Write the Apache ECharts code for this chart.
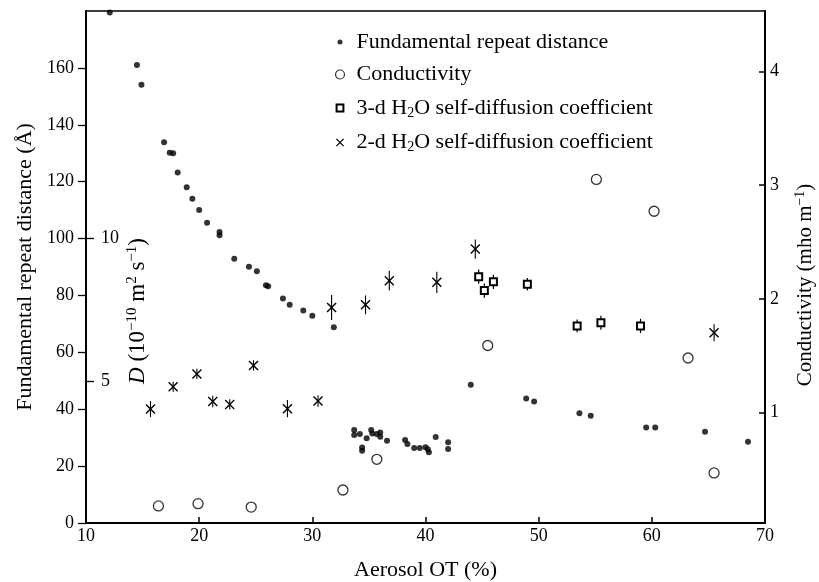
<!DOCTYPE html>
<html><head><meta charset="utf-8">
<script src="https://cdn.jsdelivr.net/npm/echarts@6/dist/echarts.min.js"></script>
<style>html,body{margin:0;padding:0;background:#fff}#c{width:819px;height:582px}</style>
</head><body><div id="c"></div>
<script>
// Fundamental repeat distance (Å) vs Aerosol OT (%)
const repeatX = [12.1, 14.5, 14.9, 16.9, 17.4, 17.7, 18.1, 18.9, 19.4, 20.0, 20.7, 21.8, 21.8, 23.1, 24.4, 25.1, 25.9, 26.1, 27.4, 28.0, 29.2, 30.0, 31.9, 33.7, 33.7, 34.2, 34.4, 34.4, 34.8, 35.2, 35.3, 35.7, 36.0, 36.0, 36.6, 38.2, 38.4, 39.0, 39.5, 40.0, 40.2, 40.3, 40.9, 42.0, 42.0, 44.0, 48.9, 49.6, 53.6, 54.6, 59.5, 60.3, 64.7, 68.5];
const repeatY = [179.5, 161.0, 154.1, 133.9, 130.2, 130.0, 123.2, 118.0, 114.0, 110.0, 105.6, 102.3, 101.2, 92.9, 90.1, 88.5, 83.6, 83.2, 78.9, 76.7, 74.7, 72.9, 68.8, 32.7, 30.9, 31.3, 26.5, 25.4, 29.8, 32.7, 31.5, 31.3, 31.8, 30.3, 28.9, 29.2, 27.8, 26.4, 26.4, 26.6, 25.9, 24.9, 30.2, 28.4, 26.0, 48.6, 43.8, 42.7, 38.6, 37.7, 33.6, 33.6, 32.1, 28.6];
// Conductivity (mho m^-1)
const condX = [16.4, 19.9, 24.6, 32.7, 35.7, 45.5, 55.1, 60.2, 63.2, 65.5];
const condY = [0.18, 0.20, 0.17, 0.32, 0.59, 1.59, 3.05, 2.77, 1.48, 0.47];
// 3-d H2O self-diffusion coefficient D (1e-10 m2 s-1)
const d3X = [44.7, 45.2, 46.0, 49.0, 53.4, 55.5, 59.0];
const d3Y = [8.66, 8.17, 8.48, 8.39, 6.93, 7.04, 6.93];
const d3Err = [0.25, 0.25, 0.25, 0.22, 0.22, 0.25, 0.25];
// 2-d H2O self-diffusion coefficient D
const d2X = [15.7, 17.7, 19.8, 21.2, 22.7, 24.8, 27.8, 30.5, 31.7, 34.7, 36.8, 41.0, 44.4, 65.5];
const d2Y = [4.01, 4.79, 5.24, 4.27, 4.17, 5.54, 4.02, 4.29, 7.58, 7.67, 8.52, 8.46, 9.63, 6.69];
const d2Err = [0.28, 0.18, 0.18, 0.2, 0.18, 0.18, 0.3, 0.2, 0.44, 0.33, 0.35, 0.37, 0.34, 0.3];
// tick labels
const xTicks = [10, 20, 30, 40, 50, 60, 70];
const leftTicks = [0, 20, 40, 60, 80, 100, 120, 140, 160];
const rightTicks = [1, 2, 3, 4];
const dTicks = [5, 10];

const names = ['Fundamental repeat distance', 'Conductivity', '3-d H2O self-diffusion coefficient', '2-d H2O self-diffusion coefficient'];

const FF = 'Liberation Serif';
const BLACK = '#000';

function render2d(params, api) {
  const x = api.value(0), y = api.value(1), e = api.value(2);
  const c = api.coord([x, y]), t = api.coord([x, y + e]), b = api.coord([x, y - e]);
  const h = 4.5;
  return {type: 'group', children: [
    {type: 'line', shape: {x1: c[0], y1: t[1], x2: c[0], y2: b[1]}, style: {stroke: BLACK, lineWidth: 1.1}},
    {type: 'line', shape: {x1: c[0] - h, y1: c[1] - h, x2: c[0] + h, y2: c[1] + h}, style: {stroke: BLACK, lineWidth: 1.4}},
    {type: 'line', shape: {x1: c[0] - h, y1: c[1] + h, x2: c[0] + h, y2: c[1] - h}, style: {stroke: BLACK, lineWidth: 1.4}}
  ]};
}
function render3d(params, api) {
  const x = api.value(0), y = api.value(1), e = api.value(2);
  const c = api.coord([x, y]), t = api.coord([x, y + e]), b = api.coord([x, y - e]);
  const s = 3.5;
  return {type: 'group', children: [
    {type: 'line', shape: {x1: c[0], y1: t[1], x2: c[0], y2: b[1]}, style: {stroke: BLACK, lineWidth: 1.2}},
    {type: 'rect', shape: {x: c[0] - s, y: c[1] - s, width: 2 * s, height: 2 * s}, style: {fill: '#fff', stroke: BLACK, lineWidth: 2}}
  ]};
}

const chart = echarts.init(document.getElementById('c'));
chart.setOption({
  animation: false,
  backgroundColor: '#fff',
  grid: {left: 86, right: 54, top: 11, bottom: 59, outerBoundsMode: 'none', containLabel: false,
    show: true, borderColor: BLACK, borderWidth: 1.5, backgroundColor: 'transparent'},
  legend: {
    orient: 'vertical', left: 328, top: 26, itemWidth: 9, itemHeight: 9, itemGap: 10.5,
    selectedMode: false,
    textStyle: {fontFamily: FF, fontSize: 22, color: BLACK, lineHeight: 22, padding: [0, 0, 0, 7],
      rich: {sub: {fontFamily: FF, fontSize: 14, lineHeight: 12, padding: [10, 0, 0, 0], color: BLACK}}},
    formatter: n => n.replace('H2O', 'H{sub|2}O'),
    data: [
      {name: names[0], icon: 'path://M0 0M10 10M5 2.2A2.8 2.8 0 1 1 4.99 2.2Z', itemStyle: {color: BLACK, borderWidth: 0}},
      {name: names[1], icon: 'circle', itemStyle: {color: '#fff', borderColor: BLACK, borderWidth: 1.2}},
      {name: names[2], icon: 'path://M0 0M10 10M1.2 1.2H8.8V8.8H1.2Z', itemStyle: {color: '#fff', borderColor: BLACK, borderWidth: 2}},
      {name: names[3], icon: 'path://M0 0M10 10M1 1L9 9M9 1L1 9', itemStyle: {color: 'none', borderColor: BLACK, borderWidth: 1.3}}
    ]
  },
  graphic: [{
    type: 'text', x: 138, y: 311, rotation: Math.PI / 2, silent: true,
    style: {
      text: '{it|D} (10{sup|−10} m{sup|2} s{sup|−1})',
      fontFamily: FF, fontSize: 23, fill: BLACK, align: 'center', verticalAlign: 'middle',
      rich: {
        it: {fontFamily: FF, fontSize: 23, fontStyle: 'italic', fill: BLACK},
        sup: {fontFamily: FF, fontSize: 15, lineHeight: 13, padding: [0, 0, 11, 0], fill: BLACK}
      }
    }
  }],
  xAxis: {
    type: 'value', min: 10, max: 70, interval: 10,
    name: 'Aerosol OT (%)', nameLocation: 'middle', nameGap: 36,
    nameTextStyle: {fontFamily: FF, fontSize: 22, color: BLACK},
    axisLine: {lineStyle: {color: BLACK, width: 2}},
    axisTick: {inside: true, length: 6, lineStyle: {color: BLACK, width: 1.5}},
    axisLabel: {fontFamily: FF, fontSize: 18, color: BLACK, margin: 4, customValues: xTicks},
    splitLine: {show: false}
  },
  yAxis: [
    {
      type: 'value', min: 0, max: 180, position: 'left',
      name: 'Fundamental repeat distance (Å)', nameLocation: 'middle', nameRotate: 90, nameGap: 48,
      nameTextStyle: {fontFamily: FF, fontSize: 22, color: BLACK},
      axisLine: {show: true, lineStyle: {color: BLACK, width: 2}},
      axisTick: {show: true, inside: false, length: 8, lineStyle: {color: BLACK, width: 1.3}, customValues: leftTicks},
      axisLabel: {fontFamily: FF, fontSize: 18, color: BLACK, margin: 12, customValues: leftTicks},
      splitLine: {show: false}
    },
    {
      type: 'value', min: 0.03, max: 4.53, position: 'right',
      name: 'Conductivity (mho m{sup|−1})', nameLocation: 'middle', nameRotate: 90, nameGap: 30,
      nameTextStyle: {fontFamily: FF, fontSize: 21, color: BLACK, padding: [0, 36, 0, 0],
        rich: {sup: {fontFamily: FF, fontSize: 14, lineHeight: 12, padding: [0, 0, 10, 0], color: BLACK}}},
      axisLine: {show: true, lineStyle: {color: BLACK, width: 2}},
      axisTick: {show: true, inside: true, length: 6, lineStyle: {color: BLACK, width: 1.5}, customValues: rightTicks},
      axisLabel: {fontFamily: FF, fontSize: 18, color: BLACK, margin: 5, customValues: rightTicks},
      splitLine: {show: false}
    },
    {
      type: 'value', min: 0, max: 18, position: 'left',
      axisLine: {show: false},
      axisTick: {show: true, inside: true, length: 8, lineStyle: {color: BLACK, width: 1.3}, customValues: dTicks},
      axisLabel: {inside: true, fontFamily: FF, fontSize: 18, color: BLACK, margin: 15, customValues: dTicks},
      splitLine: {show: false}
    }
  ],
  series: [
    {
      name: names[0], type: 'scatter', yAxisIndex: 0, symbol: 'circle', symbolSize: 6,
      itemStyle: {color: BLACK},
      data: repeatX.map((x, i) => [x, repeatY[i]])
    },
    {
      name: names[1], type: 'scatter', yAxisIndex: 1, symbol: 'circle', symbolSize: 10,
      itemStyle: {color: '#fff', borderColor: BLACK, borderWidth: 1.3},
      data: condX.map((x, i) => [x, condY[i]])
    },
    {
      name: names[2], type: 'custom', yAxisIndex: 2, renderItem: render3d,
      encode: {x: 0, y: 1},
      data: d3X.map((x, i) => [x, d3Y[i], d3Err[i]])
    },
    {
      name: names[3], type: 'custom', yAxisIndex: 2, renderItem: render2d,
      encode: {x: 0, y: 1},
      data: d2X.map((x, i) => [x, d2Y[i], d2Err[i]])
    }
  ]
});
</script>
</body></html>
